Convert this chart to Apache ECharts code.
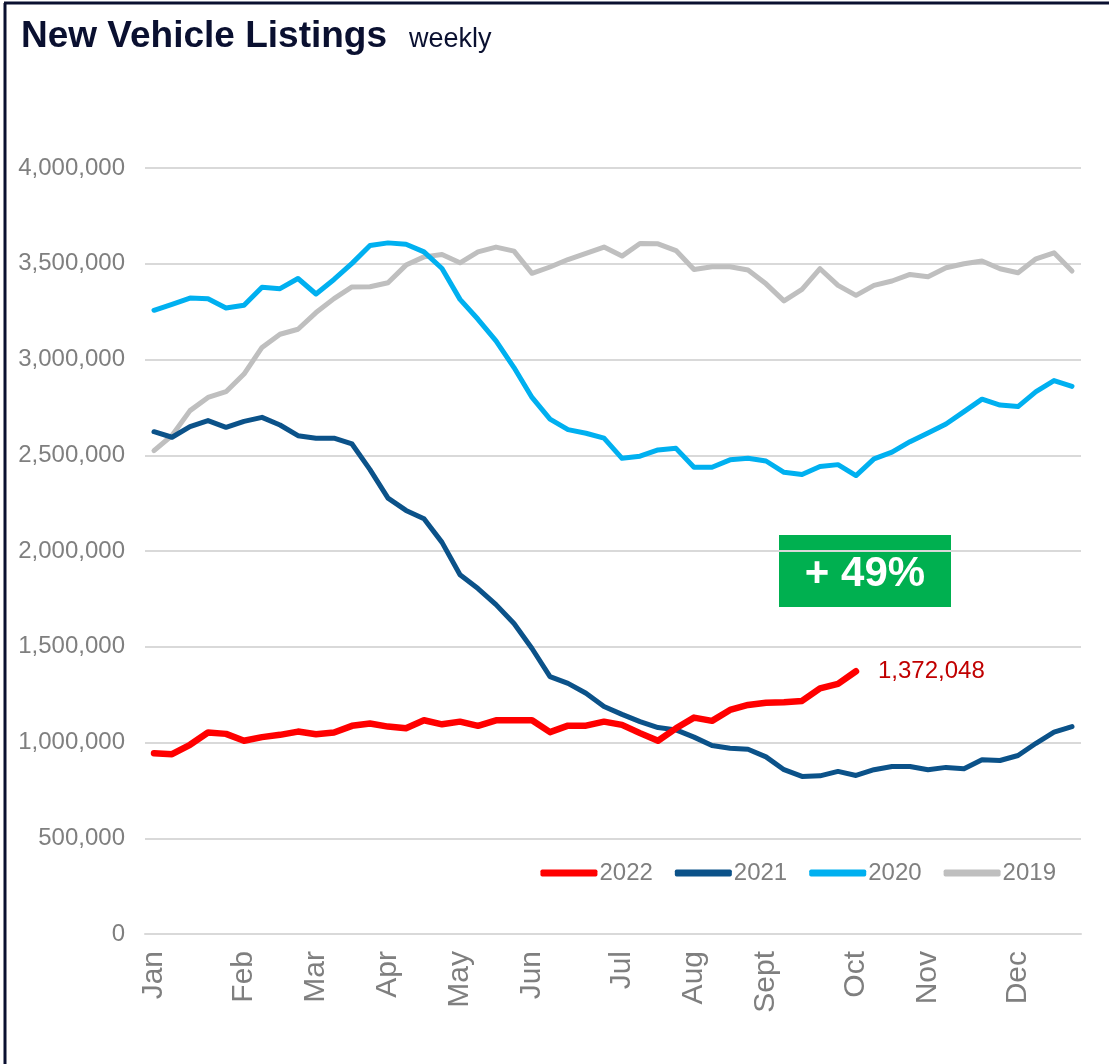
<!DOCTYPE html>
<html>
<head>
<meta charset="utf-8">
<script src="https://cdn.jsdelivr.net/npm/echarts@6/dist/echarts.min.js"></script>
<style>
  html, body { margin: 0; padding: 0; background: #ffffff; }
  #chart { width: 1109px; height: 1064px; }
</style>
</head>
<body>
<div id="chart"></div>
<script>
// ---- data ----
const monthLabels = ['Jan', 'Feb', 'Mar', 'Apr', 'May', 'Jun', 'Jul', 'Aug', 'Sept', 'Oct', 'Nov', 'Dec'];
const monthWeeks = [0, 5, 9, 13, 17, 21, 26, 30, 34, 39, 43, 48];
const weeks = Array.from({ length: 52 }, (_, i) => 'W' + (i + 1));
const yTicks = [0, 500000, 1000000, 1500000, 2000000, 2500000, 3000000, 3500000, 4000000];

const s2022 = [944000, 939000, 988000, 1052000, 1045000, 1009000, 1028000, 1040000, 1057000, 1043000,
  1052000, 1087000, 1099000, 1083000, 1074000, 1116000, 1095000, 1109000, 1087000, 1116000,
  1116000, 1116000, 1054000, 1088000, 1088000, 1109000, 1092000, 1049000, 1009000, 1074000,
  1130000, 1113000, 1170000, 1196000, 1208000, 1210000, 1217000, 1283000, 1306000, 1372048];

const s2021 = [2623000, 2594000, 2650000, 2681000, 2646000, 2677000, 2698000, 2658000, 2602000, 2589000,
  2589000, 2559000, 2425000, 2276000, 2212000, 2168000, 2045000, 1876000, 1804000, 1720000,
  1621000, 1491000, 1344000, 1309000, 1257000, 1188000, 1147000, 1109000, 1078000, 1066000,
  1028000, 984000, 970000, 965000, 925000, 858000, 823000, 826000, 849000, 828000,
  858000, 875000, 875000, 858000, 870000, 863000, 910000, 906000, 932000, 996000,
  1054000, 1083000];

const s2020 = [3257000, 3288000, 3321000, 3317000, 3269000, 3283000, 3377000, 3370000, 3423000, 3342000,
  3418000, 3502000, 3595000, 3609000, 3602000, 3562000, 3475000, 3314000, 3210000, 3097000,
  2958000, 2802000, 2689000, 2634000, 2615000, 2589000, 2484000, 2495000, 2528000, 2536000,
  2437000, 2437000, 2476000, 2484000, 2470000, 2411000, 2399000, 2441000, 2451000, 2394000,
  2481000, 2516000, 2571000, 2616000, 2663000, 2728000, 2793000, 2762000, 2754000, 2832000,
  2890000, 2860000];

const s2019 = [2524000, 2603000, 2733000, 2802000, 2832000, 2924000, 3063000, 3132000, 3158000, 3245000,
  3318000, 3379000, 3380000, 3401000, 3493000, 3536000, 3548000, 3505000, 3562000, 3587000,
  3566000, 3450000, 3483000, 3522000, 3554000, 3587000, 3540000, 3606000, 3604000, 3569000,
  3470000, 3484000, 3484000, 3467000, 3395000, 3306000, 3366000, 3474000, 3387000, 3335000,
  3387000, 3410000, 3444000, 3432000, 3479000, 3500000, 3514000, 3474000, 3453000, 3526000,
  3557000, 3462000];

const changeText = '+ 49%';

// ---- chart ----
const FONT = '"Liberation Sans", Arial, sans-serif';
const chart = echarts.init(document.getElementById('chart'), null, { renderer: 'canvas' });

function line(name, data, color, width) {
  return {
    name: name, type: 'line', data: data,
    showSymbol: false, symbol: 'none',
    lineStyle: { color: color, width: width, cap: 'round', join: 'round' },
    itemStyle: { color: color },
    emphasis: { disabled: true }
  };
}

const red = line('2022', s2022, '#ff0000', 6.5);
red.endLabel = {
  show: true,
  distance: 22,
  color: '#c00000',
  fontSize: 24,
  fontFamily: FONT,
  formatter: (p) => Number(p.value).toLocaleString('en-US')
};

chart.setOption({
  animation: false,
  backgroundColor: '#ffffff',
  title: {
    text: '{a|New Vehicle Listings}{b|weekly}',
    left: 16, top: 13,
    textStyle: {
      fontWeight: 'normal',
      rich: {
        a: { fontSize: 37, fontWeight: 'bold', color: '#0a1030', fontFamily: FONT },
        b: { fontSize: 27, fontWeight: 'normal', color: '#0a1030', fontFamily: FONT, padding: [6, 0, 0, 22] }
      }
    }
  },
  legend: {
    data: ['2022', '2021', '2020', '2019'],
    right: 48, top: 856,
    icon: 'roundRect',
    itemWidth: 57, itemHeight: 7,
    itemGap: 22,
    textStyle: { fontSize: 24, color: '#7f7f7f', fontFamily: FONT, padding: [0, 0, 0, -3] }
  },
  grid: { left: 145, right: 28, top: 168, bottom: 130, containLabel: false },
  xAxis: {
    type: 'category',
    data: weeks,
    boundaryGap: true,
    axisLine: { show: true, lineStyle: { color: '#d9d9d9', width: 2 } },
    axisTick: { show: false },
    axisLabel: {
      rotate: 90,
      margin: 17,
      fontSize: 30,
      color: '#7f7f7f',
      fontFamily: FONT,
      interval: (i) => monthWeeks.indexOf(i) >= 0,
      formatter: (v, i) => { const k = monthWeeks.indexOf(i); return k >= 0 ? monthLabels[k] : ''; }
    },
    splitLine: { show: false }
  },
  yAxis: {
    type: 'value',
    min: yTicks[0], max: yTicks[yTicks.length - 1], interval: yTicks[1] - yTicks[0],
    axisLine: { show: false },
    axisTick: { show: false },
    axisLabel: {
      margin: 20,
      fontSize: 24,
      color: '#7f7f7f',
      fontFamily: FONT,
      formatter: (v) => Number(v).toLocaleString('en-US')
    },
    splitLine: { lineStyle: { color: '#d9d9d9', width: 2 } }
  },
  series: [
    line('2019', s2019, '#bfbfbf', 5),
    line('2020', s2020, '#00b0f0', 5),
    line('2021', s2021, '#0b5289', 5),
    red
  ],
  graphic: [
    { type: 'line', shape: { x1: 5, y1: 3, x2: 5, y2: 1064 }, style: { stroke: '#0a1030', lineWidth: 3 } },
    { type: 'line', shape: { x1: 4, y1: 3, x2: 1109, y2: 3 }, style: { stroke: '#0a1030', lineWidth: 3 } },
    {
      type: 'group', left: 779, top: 535,
      children: [
        { type: 'rect', shape: { x: 0, y: 0, width: 172, height: 72 }, style: { fill: '#00b050' } },
        {
          type: 'text', x: 86, y: 39,
          style: {
            text: changeText, fill: '#ffffff', fontSize: 42, fontWeight: 'bold',
            fontFamily: FONT, align: 'center', verticalAlign: 'middle'
          }
        }
      ]
    }
  ]
});
</script>
</body>
</html>
